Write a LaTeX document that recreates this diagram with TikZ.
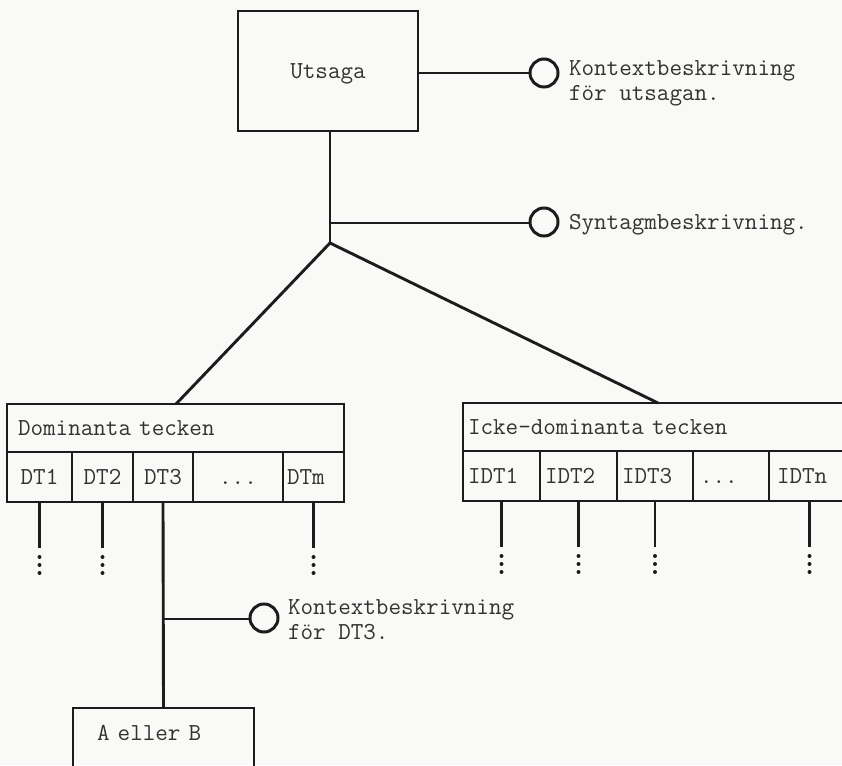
\documentclass[tikz,border=0pt]{standalone}
\usetikzlibrary{calc}
\definecolor{ink}{RGB}{28,28,28}
\definecolor{txt}{RGB}{50,50,50}
\definecolor{paper}{RGB}{249,249,247}
\newcommand{\typewriterfont}{\fontsize{24.4}{26}\selectfont\ttfamily}
\begin{document}
\begin{tikzpicture}[x=1pt,y=-1pt,
  every node/.style={outer sep=0pt, inner sep=0pt, text=txt, font=\typewriterfont},
  box/.style={draw=ink, line width=2.9pt, text height=15pt, text depth=0pt},
  cell/.style={box, minimum height=50pt},
  lcell/.style={cell, align=left},
  conn/.style={draw=ink, line width=2.9pt},
  knob/.style={circle, draw=ink, line width=3pt, minimum size=28pt},
  lbl/.style={anchor=base west}]
\fill[paper] (0,0) rectangle (842,765);
\useasboundingbox (0,0) rectangle (842,765);
\clip (0,0) rectangle (842,765);

% top
\node[box, minimum width=180pt, minimum height=120pt] (utsaga) at (328,71) {Utsaga};
\node[knob] (k1) at (544,73) {};
\node[lbl] (k1a) at (569,76) {Kontextbeskrivning};
\node[lbl] (k1b) at (569,100) {för utsagan.};
\draw[conn] (utsaga.east |- k1) -- (k1.west);

\coordinate (s) at (330,223);
\coordinate (j) at (330,243);
\node[knob] (k2) at (544,222) {};
\node[lbl] (k2a) at (569,229) {Syntagmbeskrivning.};
\draw[conn] (utsaga.south -| j) -- (j);
\draw[conn] (s) -- (k2.west |- s);

\coordinate (dl) at (176,404);
\coordinate (dr) at (658,403);
\draw[conn, line join=miter] (dl) -- (j) -- (dr);

% Dominanta tecken
\node[box, minimum height=48pt, text width=315pt, inner xsep=11pt, align=left] (dom) at (175.5,428) {Dominanta tecken};
\node[cell, minimum width=65pt] (dt1) at (39.5,477) {DT1};
\node[cell, minimum width=61pt] (dt2) at (102.5,477) {DT2};
\node[cell, minimum width=60pt] (dt3) at (163,477) {DT3};
\node[cell, minimum width=90pt] (dtd) at (238,477) {...};
\node[lcell, text width=53pt, inner xsep=4pt] (dtm) at (313.5,477) {DTm};

% Icke-dominanta tecken
\node[box, minimum height=48pt, text width=377pt, inner xsep=5pt, align=left] (idom) at (656.5,427) {Icke-dominanta tecken};
\node[lcell, text width=67pt, inner xsep=5pt] (idt1) at (501.5,476) {IDT1};
\node[lcell, text width=67pt, inner xsep=5pt] (idt2) at (578.5,476) {IDT2};
\node[lcell, text width=66pt, inner xsep=5pt] (idt3) at (655,476) {IDT3};
\node[lcell, text width=62pt, inner xsep=7pt] (idtd) at (731,476) {...};
\node[lcell, text width=65pt, inner xsep=8pt] (idtn) at (809.5,476) {IDTn};

% continuation lines with dots
\foreach \c in {dt1,dt2,dtm,idt1,idt2,idt3,idtn} {
  \coordinate (\c-e) at ($(\c.south)+(0,46)$);
  \draw[conn] (\c.south) -- (\c-e);
  \foreach \d in {9,17,25} \fill[ink] ($(\c-e)+(0,\d)$) circle (2);
}

% DT3 branch
\node[box, text height=32pt, text depth=50pt, text width=133pt, inner xsep=24pt, align=left, anchor=north] (ab) at (163.5,708) {A eller B};
\node[knob] (k3) at (264,618) {};
\node[lbl] (k3a) at (288,614) {Kontextbeskrivning};
\node[lbl] (k3b) at (288,639) {för DT3.};
\coordinate (t) at (163,619);
\draw[conn] (dt3.south) -- (ab.north);
\draw[conn] (t) -- (k3.west |- t);
\end{tikzpicture}
\end{document}
